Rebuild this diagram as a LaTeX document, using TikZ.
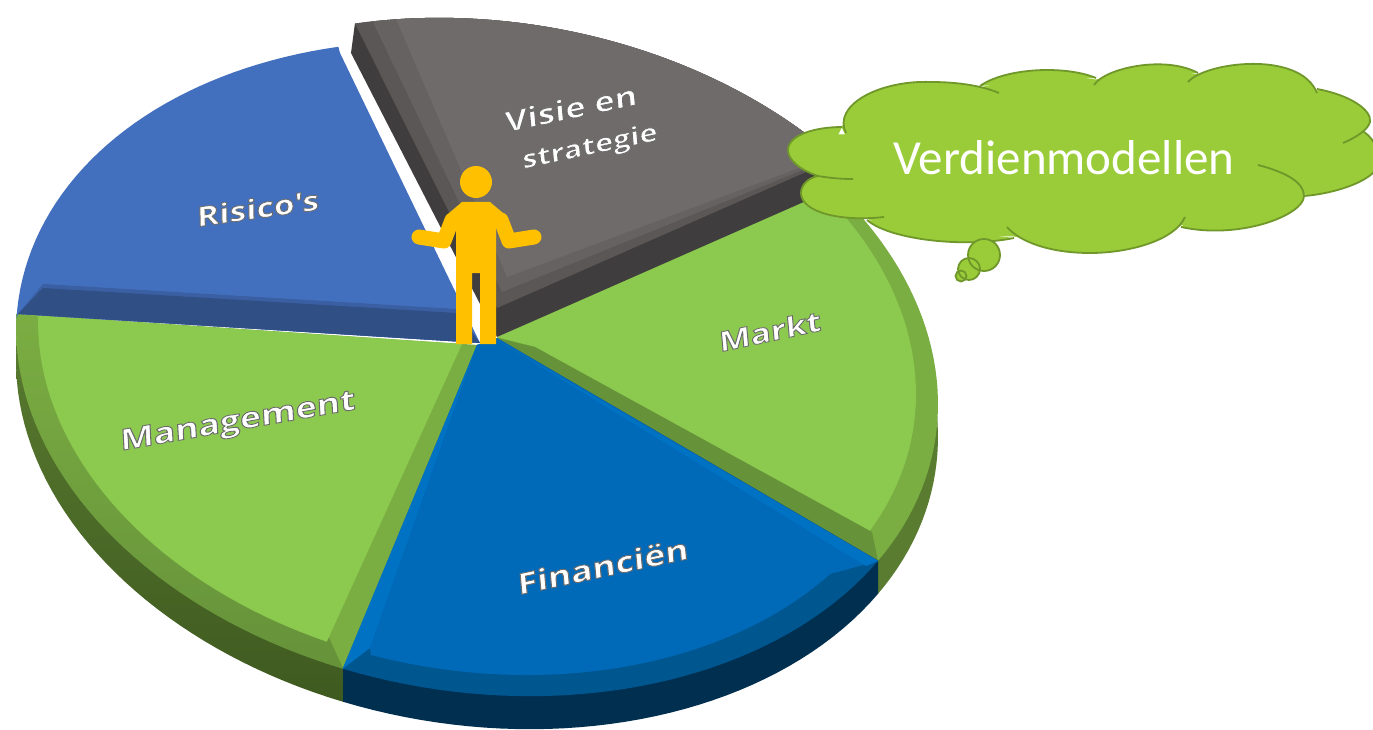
\documentclass[tikz,border=0pt]{standalone}
\usepackage{fontspec}
\setmainfont{Carlito}
\newfontfamily\labelfont{Open Sans}
\definecolor{gTop}{HTML}{8CC94F}
\definecolor{gBev}{HTML}{7AAD42}
\definecolor{gBevD}{HTML}{66923A}
\definecolor{gSide}{HTML}{5A7C30}
\definecolor{gSideD}{HTML}{3F5A20}
\definecolor{bTop}{HTML}{006AB9}
\definecolor{bLight}{HTML}{0072C3}
\definecolor{bBev}{HTML}{00568F}
\definecolor{bSide}{HTML}{002F50}
\definecolor{rTop}{HTML}{4370BE}
\definecolor{rMid}{HTML}{3A5FA2}
\definecolor{rBand}{HTML}{2F4F85}
\definecolor{vTop}{HTML}{6F6B6A}
\definecolor{vMid}{HTML}{656261}
\definecolor{vBev}{HTML}{5A5756}
\definecolor{vSide}{HTML}{403D3E}
\definecolor{cFill}{HTML}{99CC38}
\definecolor{cLine}{HTML}{70972A}
\definecolor{pFill}{HTML}{FFC000}
\newcommand{\plabel}[6]{%
  \begin{scope}[shift={(#2,#3)},rotate=#4,xslant=0.12,yscale=.8,transform shape]
    \node[lab,font=\labelfont\bfseries\addfontfeature{FakeBold=3}\fontsize{#5}{#5}\selectfont] (#1) at (0,0) {\special{pdf:code 0.42 0.42 0.42 RG}#6};
  \end{scope}}
\tikzset{
  lab/.style={text=white,inner sep=0pt},
  cloudline/.style={draw=cLine,line width=1.8pt},
  arcT/.style 2 args={insert path={-- plot[domain=#1:#2,samples=40,variable=\t] ({477+461*cos(\t)},{366+38*cos(\t)+328*sin(\t)})}},
  arcS/.style 2 args={insert path={-- plot[domain=#1:#2,samples=40,variable=\t] ({477+461*cos(\t)},{399+38*cos(\t)+328*sin(\t)})}},
  arcI/.style 2 args={insert path={-- plot[domain=#1:#2,samples=40,variable=\t] ({477+439*cos(\t)},{358+36*cos(\t)+315*sin(\t)})}},
  arcV/.style 2 args={insert path={-- plot[domain=#1:#2,samples=40,variable=\t] ({492+461*cos(\t)},{348+38*cos(\t)+328*sin(\t)})}},
  arcR/.style 2 args={insert path={-- plot[domain=#1:#2,samples=40,variable=\t] ({477+461*cos(\t)},{371+38*cos(\t)+328*sin(\t)})}},
  cA/.style={insert path={(846,133) .. controls (832,105) and (880,80) .. (931,82) .. controls (955,82) and (980,85) .. (999,93)}},
  cB/.style={insert path={(980,86) .. controls (1005,68) and (1065,65) .. (1096,78)}},
  cC/.style={insert path={(1094,85) .. controls (1105,68) and (1165,55) .. (1198,73)}},
  cD/.style={insert path={(1188,82) .. controls (1205,62) and (1300,50) .. (1317,93)}},
  cE/.style={insert path={(1317,89) .. controls (1350,95) and (1372,110) .. (1370,122) .. controls (1368,130) and (1355,138) .. (1343,143)}},
  cF/.style={insert path={(1364,132) .. controls (1376,140) and (1385,160) .. (1373,173) .. controls (1360,185) and (1330,194) .. (1304,196)}},
  cG/.style={insert path={(1258,165) .. controls (1285,172) and (1304,182) .. (1304,196) .. controls (1304,215) and (1240,240) .. (1181,227)}},
  cH/.style={insert path={(1185,217) .. controls (1175,240) and (1130,253) .. (1090,253) .. controls (1050,253) and (1020,242) .. (1007,227)}},
  cI/.style={insert path={(1014,238) .. controls (965,248) and (890,240) .. (867,220)}},
  cJ/.style={insert path={(884,217) .. controls (840,222) and (801,212) .. (801,193) .. controls (801,185) and (808,178) .. (818,176) .. controls (830,178) and (840,179) .. (853,179)}},
  cK/.style={insert path={(818,176) .. controls (800,170) and (788,160) .. (788,150) .. controls (788,135) and (815,127) .. (842,127)}},
}
\begin{document}
\begin{tikzpicture}[x=1pt,y=-1pt]
\useasboundingbox (0,0) rectangle (1373,730);
\fill[white] (0,0) rectangle (1373,730);
% Markt
\fill[gSide] (497,338) -- (830,185) [arcS={-40}{29.5}] -- (878,561) -- cycle;
\fill[gBev] (497,338) -- (830,185) [arcT={-40}{29.5}] -- cycle;
\fill[gTop] (497,337) -- (823,190) [arcI={-38}{27}] -- (535,347) -- cycle;
\fill[gBevD] (497,338) -- (535,347) -- (872,532) -- (878,561) -- cycle;
% Management
\shade[top color=gSide,bottom color=gSideD] (18,314) [arcS={182.5}{106.9}] -- (343,668) -- cycle;
\shade[top color=gBev,bottom color=gBevD] (478,345) [arcT={182.5}{106.9}] -- cycle;
\fill[gBev] (478,345) -- (343,668) -- (328,635) -- (458,347) -- cycle;
\fill[gTop] (462,344) -- (30,315) [arcI={181}{110}] -- cycle;
% Financien
\fill[bSide] (343,668) [arcS={106.9}{29.5}] -- (878,561) -- cycle;
\fill[bBev] (477,345) [arcT={106.9}{29.5}] -- (497,338) -- cycle;
\fill[bTop] (477,345) -- (370,648) [arcI={104}{36.4}] -- (878,561) -- (497,338) -- cycle;
\fill[bLight] (477,345) -- (342.5,669) -- (370,648) -- cycle;
\fill[bLight] (497,340) -- (878,561) -- (866,566) -- cycle;
% Risico
\fill[rTop] (480,343) -- (340,53) [arcR={252.5}{182.5}] -- (18,314) -- cycle;
\fill[rMid] (480,343) -- (457,309) -- (43,284) -- (18,314) -- cycle;
\fill[rBand] (480,343) -- (457,313) -- (43,288) -- (18,314) -- cycle;
% Visie
\fill[vSide] (497,337) -- (351,53) [arcV={252.7}{314.4}] -- (815,197) -- cycle;
\fill[vBev] (497,308) [arcV={252.7}{314.4}] -- (815,168) -- cycle;
\fill[vMid] (502,292) [arcV={255}{314.4}] -- (815,165) -- cycle;
\fill[vTop] (507,277) [arcV={258}{314.4}] -- (815,162) -- cycle;
% labels
\plabel{risico}{258}{208}{8}{34}{Risico's}
\plabel{visie}{571}{108}{12}{35}{Visie en}
\plabel{strat}{590}{148}{12}{31}{strategie}
\plabel{markt}{770}{331}{12}{34}{Markt}
\plabel{manag}{238}{423}{10}{36}{Management}
\plabel{finan}{603}{566}{12}{36}{Financiën}
% person
\fill[pFill] (476,182) circle[radius=16pt];
\draw[pFill,line width=15pt,line cap=round,line join=round] (419,237) -- (444,241) -- (452,220);
\draw[pFill,line width=15pt,line cap=round,line join=round] (534,237) -- (509,241) -- (501,220);
\fill[pFill] (456,344) -- (456,215) -- (449,213) -- (462,202) -- (490,202) -- (503,213) -- (496,215) -- (496,344) -- (480,344) -- (480,273) -- (472,273) -- (472,344) -- cycle;
% cloud
\fill[cFill,draw=cFill,line width=1pt] (846,135) -- (842,127) -- (860,100) -- (931,84) -- (980,88) -- (1040,74) -- (1096,80) -- (1150,68) -- (1198,75) -- (1250,68) -- (1317,91) -- (1368,120) -- (1364,132) -- (1371,172) -- (1304,194) -- (1181,225) -- (1090,250) -- (1014,236) -- (905,235) -- (867,218) -- (820,208) -- (803,190) -- (818,176) -- (790,150) -- (803,135) -- cycle;
\fill[cFill] [cA] -- cycle;
\fill[cFill] [cB] -- cycle;
\fill[cFill] [cC] -- cycle;
\fill[cFill] [cD] -- cycle;
\fill[cFill] [cE] -- cycle;
\fill[cFill] [cF] -- cycle;
\fill[cFill] [cG] -- cycle;
\fill[cFill] [cH] -- cycle;
\fill[cFill] [cI] -- cycle;
\fill[cFill] [cJ] -- cycle;
\fill[cFill] [cK] -- cycle;
\draw[cloudline] [cA];
\draw[cloudline] [cB];
\draw[cloudline] [cC];
\draw[cloudline] [cD];
\draw[cloudline] [cE];
\draw[cloudline] [cF];
\draw[cloudline] [cG];
\draw[cloudline] [cH];
\draw[cloudline] [cI];
\draw[cloudline] [cJ];
\draw[cloudline] [cK];
\fill[cFill] (984,255) circle[radius=16pt];
\fill[cFill] (969,269) circle[radius=11pt];
\fill[cFill] (961,276) circle[radius=5.5pt];
\draw[cloudline] (984,255) circle[radius=16pt];
\draw[cloudline] (969,269) circle[radius=11pt];
\draw[cloudline] (961,276) circle[radius=5.5pt];
\node[text=white,inner sep=0pt,font=\fontsize{49}{49}\selectfont] (verdien) at (1064,158) {Verdienmodellen};
\end{tikzpicture}
\end{document}
